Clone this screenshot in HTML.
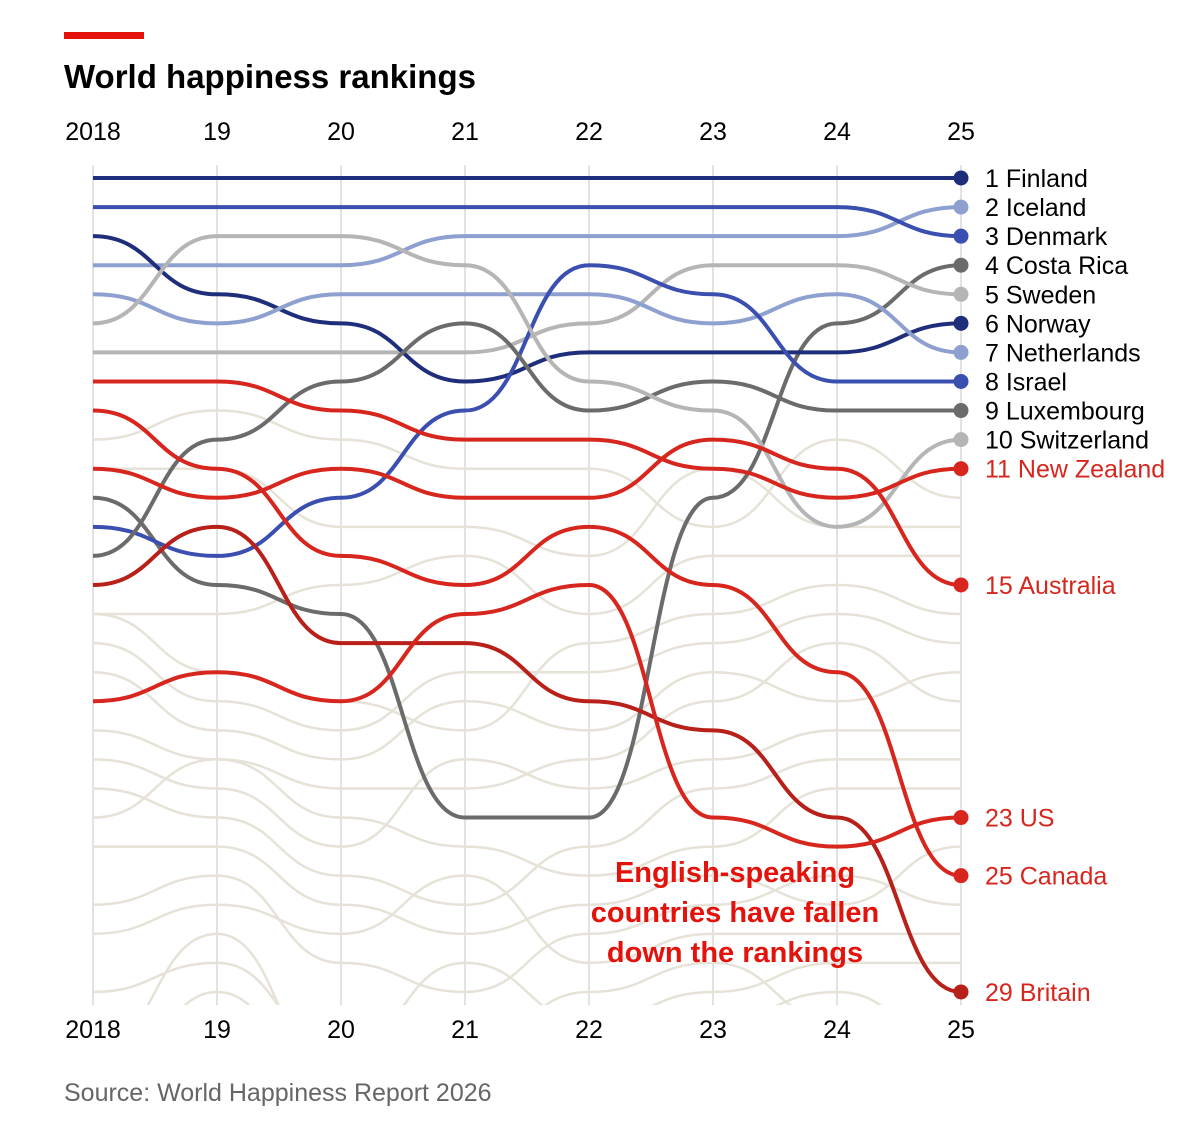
<!DOCTYPE html>
<html><head><meta charset="utf-8">
<style>
body{margin:0;background:#fff;}
svg text{font-family:"Liberation Sans",sans-serif;}
</style></head>
<body>
<svg id="chart" width="1190" height="1140" viewBox="0 0 1190 1140">
<rect x="64" y="32" width="80" height="7" fill="#e3120b"/>
<text x="64" y="88" font-size="33" font-weight="bold" fill="#000">World happiness rankings</text>
<text x="64" y="1101" font-size="25" fill="#666">Source: World Happiness Report 2026</text>
<defs><clipPath id="clip"><rect x="0" y="150" width="1190" height="855"/></clipPath></defs>
<g id="grid"></g>
<g id="bg" clip-path="url(#clip)"></g>
<g id="fg"></g>
<g id="labels"></g>
<text x="735" y="882" font-size="29" font-weight="bold" fill="#e3120b" text-anchor="middle" style="font-family:'Liberation Sans Narrow','Liberation Sans',sans-serif"><tspan x="735">English-speaking</tspan><tspan x="735" dy="40">countries have fallen</tspan><tspan x="735" dy="40">down the rankings</tspan></text>
</svg>
<script>
const years = ["2018","19","20","21","22","23","24","25"];
const names = ["Finland","Iceland","Denmark","Costa Rica","Sweden","Norway","Netherlands","Israel","Luxembourg","Switzerland","New Zealand","Australia","US","Canada","Britain"];
const colors = ["#1f2e7a","#8ea0cf","#3b4fb0","#6b6b6b","#b5b5b5","#1f2e7a","#8ea0cf","#3b4fb0","#6b6b6b","#b5b5b5","#d7261e","#d7261e","#d7261e","#d7261e","#b8201a"];
const rFinland = [1,1,1,1,1,1,1,1];
const rIceland = [4,4,4,3,3,3,3,2];
const rDenmark = [2,2,2,2,2,2,2,3];
const rCostaRica = [12,15,16,23,23,12,6,4];
const rSweden = [7,7,7,7,6,4,4,5];
const rNorway = [3,5,6,8,7,7,7,6];
const rNetherlands = [5,6,5,5,5,6,5,7];
const rIsrael = [13,14,12,9,4,5,8,8];
const rLuxembourg = [14,10,8,6,9,8,9,9];
const rSwitzerland = [6,3,3,4,8,9,13,10];
const rNewZealand = [8,8,9,10,10,11,12,11];
const rAustralia = [11,12,11,12,12,10,11,15];
const rUS = [19,18,19,16,15,23,24,23];
const rCanada = [9,11,14,15,13,15,18,25];
const rBritain = [15,13,17,17,19,20,23,29];
const series = [rFinland,rIceland,rDenmark,rCostaRica,rSweden,rNorway,rNetherlands,rIsrael,rLuxembourg,rSwitzerland,rNewZealand,rAustralia,rUS,rCanada,rBritain];
const bgSeries = [
 [10,9,10,11,11,13,10,12],[11,11,13,13,14,11,13,13],[16,16,15,14,16,14,14,14],
 [16,18,19,20,17,16,15,16],[17,19,20,18,18,17,16,17],[18,20,21,19,20,18,19,18],
 [20,21,22,22,21,19,17,19],[21,22,24,21,22,21,20,20],[22,23,25,26,24,22,21,21],
 [23,21,23,24,25,24,22,22],[24,24,26,27,26,25,26,24],[26,25,28,29,27,26,25,26],
 [27,26,27,25,28,27,27,27],[29,28,31,28,30,29,28,28],[31,27,32,31,29,28,30,30],
 [33,29,33,30,31,30,29,31],[35,32,30,33,32,31,31,32]
];
const ns="http://www.w3.org/2000/svg";
function X(i){return 93+i*124.0;}
function Y(r){return 178+(r-1)*29.07;}
function pathFor(arr){
  let d="M"+X(0)+","+Y(arr[0]);
  for(let i=1;i<arr.length;i++){
    const x0=X(i-1),x1=X(i),m=(x0+x1)/2;
    d+=" C"+m+","+Y(arr[i-1])+" "+m+","+Y(arr[i])+" "+x1+","+Y(arr[i]);
  }
  return d;
}
const grid=document.getElementById('grid');
years.forEach((y,i)=>{
  const l=document.createElementNS(ns,'line');
  l.setAttribute('x1',X(i));l.setAttribute('x2',X(i));l.setAttribute('y1',165);l.setAttribute('y2',1005);
  l.setAttribute('stroke','#d9d9d9');l.setAttribute('stroke-width','1.5');
  
  
  grid.appendChild(l);
  [140,1038].forEach((ty,k)=>{
    const t=document.createElementNS(ns,'text');
    t.setAttribute('x',X(i));t.setAttribute('y',ty);t.setAttribute('text-anchor','middle');
    t.setAttribute('font-size','25');t.setAttribute('fill','#000');
    t.textContent=y;
    
    
    grid.appendChild(t);
  });
});
const bg=document.getElementById('bg');
bgSeries.forEach(a=>{
  const p=document.createElementNS(ns,'path');
  p.setAttribute('d',pathFor(a));p.setAttribute('fill','none');p.setAttribute('stroke','#e6e2d8');p.setAttribute('stroke-width','2.5');
  
  
  bg.appendChild(p);
});
const fg=document.getElementById('fg'),lab=document.getElementById('labels');
const order=[0,1,2,3,4,5,6,7,8,9,14,13,12,11,10];
order.forEach(k=>{
  const a=series[k];
  const p=document.createElementNS(ns,'path');
  p.setAttribute('d',pathFor(a));p.setAttribute('fill','none');p.setAttribute('stroke',colors[k]);p.setAttribute('stroke-width','4');
  
  
  fg.appendChild(p);
  const c=document.createElementNS(ns,'circle');
  c.setAttribute('cx',X(7));c.setAttribute('cy',Y(a[7]));c.setAttribute('r','7.5');c.setAttribute('fill',colors[k]);
  
  
  lab.appendChild(c);
  const t=document.createElementNS(ns,'text');
  t.setAttribute('x',985);t.setAttribute('y',Y(a[7])+9);t.setAttribute('font-size','25');
  t.setAttribute('fill',k>=10?'#d7261e':'#000');
  t.textContent=a[7]+" "+names[k];
  
  
  lab.appendChild(t);
});
</script>
</body></html>
